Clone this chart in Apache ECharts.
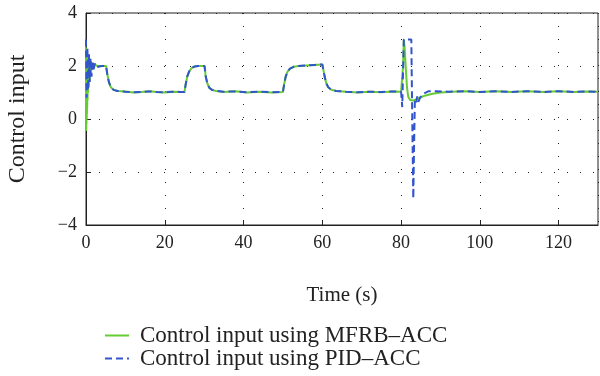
<!DOCTYPE html>
<html>
<head>
<meta charset="utf-8">
<script src="https://cdn.jsdelivr.net/npm/echarts@6/dist/echarts.min.js"></script>
<style>
  html, body { margin: 0; padding: 0; background: #fff; }
  #chart { width: 600px; height: 376px; }
</style>
</head>
<body>
<div id="chart"></div>
<script>
// time (s) and control input
const mfrbTime = [0, 0.03, 0.06, 0.09, 0.12, 0.15, 0.18, 0.21, 0.24, 0.27, 0.3, 0.35, 0.4, 0.45, 0.5, 0.6, 0.7, 0.8, 0.9, 1.0, 1.1, 1.2, 1.3, 1.4, 1.5, 1.7, 1.9, 2.1, 2.5, 3, 4, 5.1,
  5.4, 5.8, 6.3, 7, 8, 10, 12, 14, 16, 18, 20, 22, 24, 25,
  25.3, 25.7, 26.2, 26.8, 27.5, 28.5, 29.5, 30.1, 30.4, 30.8, 31.3, 32, 33, 35, 38, 41, 44, 47, 50,
  50.3, 50.7, 51.2, 51.8, 52.7, 54, 56, 58, 60, 60.3, 60.6, 61, 61.5, 62.3, 63.5, 66, 69, 72, 75, 78, 80,
  80.2, 80.5, 80.7, 80.9, 81.2, 81.5, 81.8, 82.3, 83, 84, 85, 86, 88, 90, 93, 96, 100, 104, 108, 112, 116, 120, 124, 127, 130];
const mfrbValue = [0.5, 2.7, -0.45, 2.65, -0.2, 2.6, 0.0, 2.55, 0.2, 2.5, 0.4, 2.45, 0.7, 2.4, 1.0, 2.35, 1.2, 2.3, 1.4, 2.25, 1.6, 2.2, 1.75, 2.15, 1.85, 2.1, 1.92, 2.05, 2.0, 2.0, 2.0, 2.0,
  1.7, 1.4, 1.2, 1.1, 1.06, 1.04, 1.0, 1.02, 1.05, 1.02, 1.0, 1.03, 1.02, 1.02,
  1.3, 1.6, 1.8, 1.92, 1.98, 2.0, 2.0, 2.0, 1.6, 1.35, 1.18, 1.1, 1.06, 1.02, 1.05, 1.0, 1.03, 1.0, 1.02,
  1.3, 1.6, 1.8, 1.9, 1.97, 2.0, 2.02, 2.04, 2.06, 2.0, 1.6, 1.35, 1.2, 1.1, 1.06, 1.03, 1.0, 1.03, 1.01, 1.04, 1.03,
  1.0, 2.0, 3.0, 2.7, 1.9, 1.2, 0.85, 0.72, 0.7, 0.75, 0.82, 0.88, 0.95, 1.0, 1.03, 1.05, 1.02, 1.05, 1.02, 1.05, 1.02, 1.05, 1.02, 1.04, 1.03];

const pidTime = [0, 0.15, 0.35, 0.55, 0.75, 0.95, 1.15, 1.4, 1.65, 1.9, 2.2, 2.6, 3, 4, 5.1,
  5.4, 5.8, 6.3, 7, 8, 10, 12, 14, 16, 18, 20, 22, 24, 25,
  25.3, 25.7, 26.2, 26.8, 27.5, 28.5, 29.5, 30.1, 30.4, 30.8, 31.3, 32, 33, 35, 38, 41, 44, 47, 50,
  50.3, 50.7, 51.2, 51.8, 52.7, 54, 56, 58, 60, 60.3, 60.6, 61, 61.5, 62.3, 63.5, 66, 69, 72, 75, 78, 80,
  80.1, 80.3, 80.5, 80.7, 81.5, 82.6, 82.8, 83.1, 83.3, 83.5, 83.8, 84.1, 84.4, 84.8, 85.3, 86, 87, 89,
  92, 96, 100, 104, 108, 112, 116, 120, 124, 127, 130];
const pidValue = [3.0, 0.8, 2.7, 1.1, 2.45, 1.4, 2.3, 1.6, 2.2, 1.8, 2.1, 1.95, 2.0, 2.0, 2.0,
  1.7, 1.4, 1.2, 1.1, 1.06, 1.03, 1.01, 1.02, 1.04, 1.02, 1.01, 1.03, 1.02, 1.02,
  1.3, 1.6, 1.8, 1.92, 1.98, 2.0, 2.0, 2.0, 1.6, 1.35, 1.18, 1.1, 1.06, 1.03, 1.04, 1.01, 1.03, 1.01, 1.02,
  1.3, 1.6, 1.8, 1.9, 1.97, 2.0, 2.02, 2.04, 2.06, 2.0, 1.6, 1.35, 1.2, 1.1, 1.06, 1.03, 1.01, 1.03, 1.02, 1.04, 1.03,
  1.0, 0.45, 1.8, 3.0, 3.0, 3.0, 0.5, -3.0, -1.0, 0.7, 0.6, 0.85, 0.65, 0.8, 0.9, 0.98, 1.05, 1.05,
  1.03, 1.05, 1.02, 1.05, 1.02, 1.05, 1.02, 1.05, 1.02, 1.04, 1.03];

const seriesNames = ['Control input using MFRB\u2013ACC', 'Control input using PID\u2013ACC'];

const font = '"Liberation Serif", "DejaVu Serif", serif';

function pairs(ts, vs) {
  return ts.map((t, i) => [t, vs[i]]);
}

const chart = echarts.init(document.getElementById('chart'), null, { renderer: 'canvas' });

const dotted = { color: '#222', width: 1, type: [1, 12] };

chart.setOption({
  animation: false,
  grid: {
    left: 86, right: 2, top: 13, bottom: 151,
    outerBoundsMode: 'none',
    show: true, borderColor: '#222', borderWidth: 1, backgroundColor: 'transparent'
  },
  legend: {
    orient: 'vertical',
    left: 99, top: 319,
    itemWidth: 24, itemHeight: 12, itemGap: 0,
    itemStyle: { opacity: 0 },
    textStyle: { fontFamily: font, fontSize: 23, color: '#222', padding: [0, 0, 0, 6] },
    data: seriesNames
  },
  xAxis: {
    type: 'value', min: 0, max: 130, interval: 20,
    name: 'Time (s)', nameLocation: 'middle', nameGap: 60,
    nameTextStyle: { fontFamily: font, fontSize: 21, color: '#222' },
    axisLine: { onZero: false, lineStyle: { color: '#222' } },
    axisTick: { inside: true, length: 5, lineStyle: { color: '#222' } },
    axisLabel: { fontFamily: font, fontSize: 18, color: '#222', margin: 9, showMaxLabel: false },
    splitLine: { show: true, lineStyle: dotted }
  },
  yAxis: {
    type: 'value', min: -4, max: 4, interval: 2,
    name: 'Control input', nameLocation: 'middle', nameGap: 56,
    nameTextStyle: { fontFamily: font, fontSize: 24, color: '#222' },
    axisLine: { show: true, onZero: false, lineStyle: { color: '#222' } },
    axisTick: { show: true, inside: true, length: 5, lineStyle: { color: '#222' } },
    axisLabel: {
      fontFamily: font, fontSize: 18, color: '#222', margin: 9,
      formatter: (v) => String(v).replace('-', '\u2212')
    },
    splitLine: { show: true, lineStyle: dotted }
  },
  series: [
    {
      name: seriesNames[0], type: 'line', symbol: 'none',
      data: pairs(mfrbTime, mfrbValue),
      lineStyle: { color: '#66cc33', width: 2 },
      itemStyle: { color: '#66cc33' }
    },
    {
      name: seriesNames[1], type: 'line', symbol: 'none',
      data: pairs(pidTime, pidValue),
      lineStyle: { color: '#3355cc', width: 2, type: [7, 4] },
      itemStyle: { color: '#3355cc' }
    }
  ]
});
</script>
</body>
</html>
